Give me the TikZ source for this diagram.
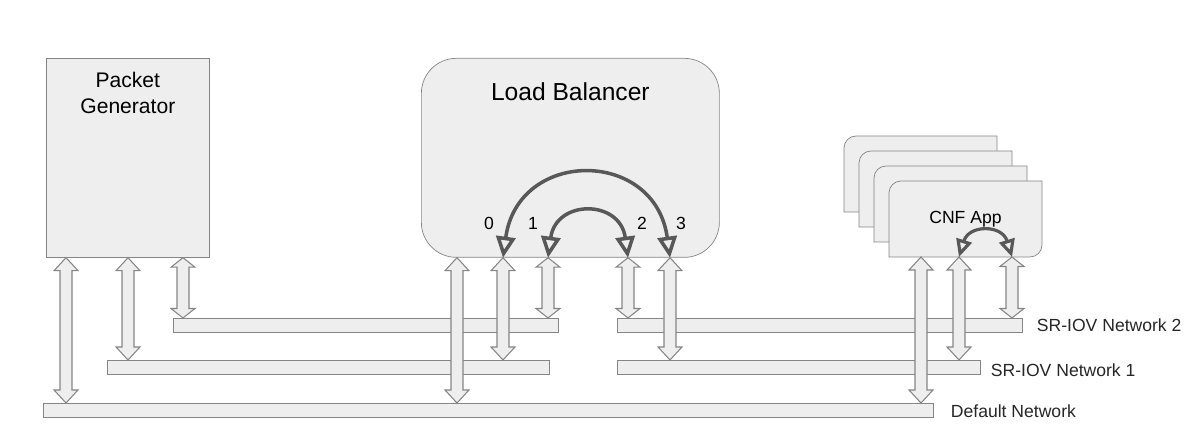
\documentclass[tikz,border=0pt]{standalone}
\usepackage{fontspec}
\setmainfont{Liberation Sans}
\usetikzlibrary{arrows.meta, positioning, calc}
\definecolor{boxgray}{HTML}{EEEEEE}
\definecolor{linegray}{HTML}{858585}
\definecolor{arcgray}{HTML}{585858}

% vertical two-headed block arrow from #2 down to #3, head length #1
\newcommand{\netlink}[3][0.26]{%
  \draw[link] let \p1=(#2), \p2=(#3) in
    (\p1) -- ++(0.24,-#1) -- ++(-0.12,0) -- (\x1+0.12cm,\y2+#1cm)
    -- ++(0.12,0) -- (\p2) -- ++(-0.24,#1) -- ++(0.12,0)
    -- (\x1-0.12cm,\y1-#1cm) -- ++(-0.12,0) -- cycle;}

\begin{document}
\begin{tikzpicture}[
    box/.style={draw=linegray, fill=boxgray, minimum width=3.26cm, minimum height=3.98cm,
                anchor=north west, inner sep=0},
    bar/.style={draw=linegray, fill=boxgray, minimum height=0.29cm, anchor=north west, inner sep=0},
    cnf/.style={draw=linegray, fill=boxgray},
    link/.style={draw=linegray, fill=boxgray, line width=0.6pt},
    loop/.style={{Triangle[open,length=12pt,width=11pt]}-{Triangle[open,length=12pt,width=11pt]},
                 line width=2pt, draw=arcgray},
    net/.style={anchor=west, font=\fontsize{10}{12}\selectfont, text=black!85},
    port/.style={font=\fontsize{10}{12}\selectfont}
]
\useasboundingbox (0,0) rectangle (23.86,8.9);

% Packet generator
\node[box] (pg) at (0.92,7.74) {};
\node[below=0.28cm of pg.north, inner sep=0, align=center, font=\fontsize{12}{14.6}\selectfont] (pgtext) {Packet\\Generator};

% Load balancer
\node[box, minimum width=5.96cm, rounded corners=0.7cm] (lb) at (8.42,7.74) {};
\node[below=0.48cm of lb.north, inner sep=0, font=\fontsize{14}{17}\selectfont] (lbtext) {Load Balancer};

% CNF stack
\foreach \i in {3,2,1,0}
  \draw[cnf] ($(17.78,3.76)+(-0.3*\i,0.3*\i)$) coordinate (c\i)
     -- ++(0,1.28) arc[start angle=180, end angle=90, radius=0.24] -- ++(2.82,0)
     -- ++(0,-1.28) arc[start angle=0, end angle=-90, radius=0.24] -- cycle;
\node[font=\fontsize{10}{12}\selectfont] (cnftext) at ($(c0)+(1.53,0.76)$) {CNF App};

% Networks
\node[bar, minimum width=7.70cm] (n2a) at (3.46,2.54) {};
\node[bar, minimum width=8.10cm] (n2b) at (12.34,2.54) {};
\node[bar, minimum width=8.84cm] (n1a) at (2.14,1.70) {};
\node[bar, minimum width=7.26cm] (n1b) at (12.34,1.70) {};
\node[bar, minimum width=17.80cm] (def) at (0.86,0.84) {};
\node[net] (n2lbl) at ($(n2b.east)+(0.16,0)$) {SR-IOV Network 2};
\node[net] (n1lbl) at ($(n1b.east)+(0.08,-0.05)$) {SR-IOV Network 1};
\node[net] (deflbl) at ($(def.east)+(0.22,-0.02)$) {Default Network};

% Ports
\coordinate (pg0) at ($(pg.south west)+(0.40,0)$);
\coordinate (pg1) at ($(pg.south west)+(1.64,0)$);
\coordinate (pg2) at ($(pg.south west)+(2.74,0)$);
\coordinate (lbd) at ($(lb.south west)+(0.72,0)$);
\coordinate (lb0) at ($(lb.south west)+(1.64,0)$);
\coordinate (lb1) at ($(lb.south west)+(2.54,0)$);
\coordinate (lb2) at ($(lb.south west)+(4.14,0)$);
\coordinate (lb3) at ($(lb.south west)+(4.98,0)$);
\coordinate (cd) at ($(c0)+(0.64,0)$);
\coordinate (c1p) at ($(c0)+(1.40,0)$);
\coordinate (c2p) at ($(c0)+(2.46,0)$);

\node[port] (l0) at ($(lb.south west)+(1.36,0.68)$) {0};
\node[port] (l1) at ($(lb.south west)+(2.24,0.68)$) {1};
\node[port] (l2) at ($(lb.south west)+(4.42,0.68)$) {2};
\node[port] (l3) at ($(lb.south west)+(5.20,0.68)$) {3};

% Links to networks
\netlink{pg0}{pg0 |- def.north}
\netlink{pg1}{pg1 |- n1a.north}
\netlink[0.19]{pg2}{pg2 |- n2a.north}
\netlink{lbd}{lbd |- def.north}
\netlink{lb0}{lb0 |- n1a.north}
\netlink[0.19]{lb1}{lb1 |- n2a.north}
\netlink[0.19]{lb2}{lb2 |- n2b.north}
\netlink{lb3}{lb3 |- n1b.north}
\netlink{cd}{cd |- def.north}
\netlink{c1p}{c1p |- n1b.north}
\netlink[0.19]{c2p}{c2p |- n2b.north}

% Internal forwarding
\draw[loop] (lb0) .. controls ($(lb0)+(0.3,2.19)$) and ($(lb3)+(-0.3,2.19)$) .. (lb3);
\draw[loop] (lb1) .. controls ($(lb1)+(0.16,1.17)$) and ($(lb2)+(-0.16,1.17)$) .. (lb2);
\draw[loop, line width=1.8pt, {Triangle[open,length=10pt,width=9pt]}-{Triangle[open,length=10pt,width=9pt]}]
  (c1p) .. controls ($(c1p)+(0.2,0.65)$) and ($(c2p)+(-0.2,0.65)$) .. (c2p);
\end{tikzpicture}
\end{document}
